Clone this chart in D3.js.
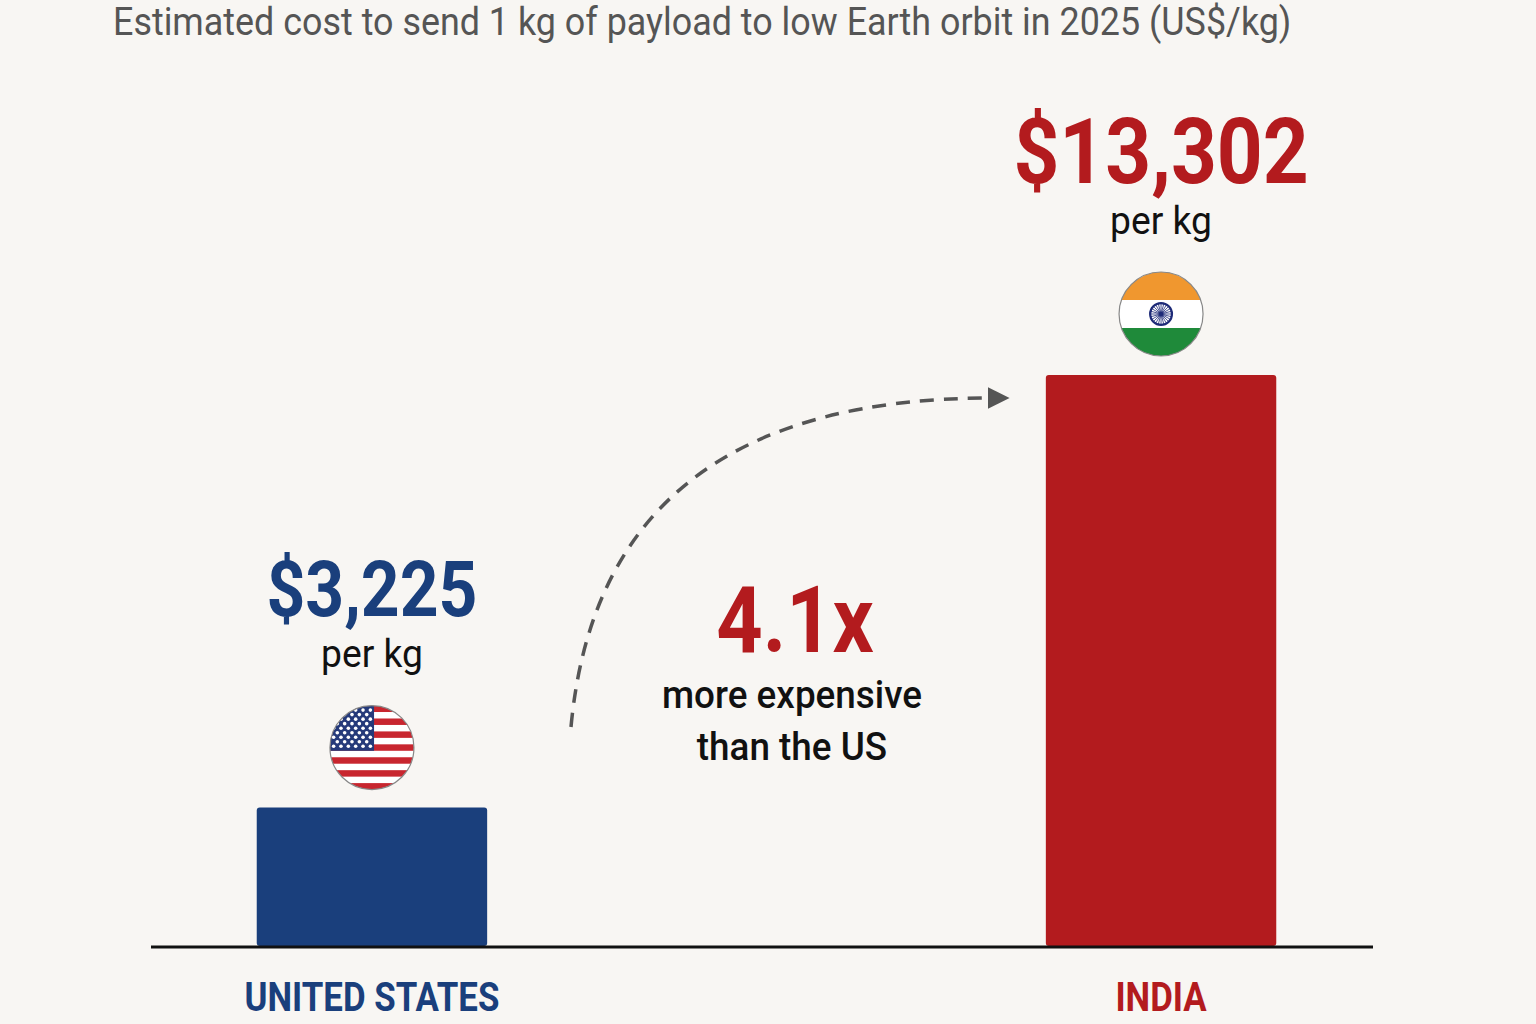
<!DOCTYPE html>
<html>
<head>
<meta charset="utf-8">
<script src="https://cdn.jsdelivr.net/npm/d3@7"></script>
<style>
  body { margin: 0; background: #f8f6f3; }
  svg { display: block; }
</style>
</head>
<body>
<div id="viz"></div>
<script>
// data
var countries = ["UNITED STATES", "INDIA"];
var costs = [3225, 13302];
var costLabels = ["$3,225", "$13,302"];
var colors = ["#1a3f7c", "#b31b1e"];
var flags = ["us", "in"];
var ratioLabel = "4.1x";

var W = 1536, H = 1024;
var svg = d3.select("#viz").append("svg")
  .attr("width", W).attr("height", H)
  .style("font-family", "Roboto, 'Noto Sans', sans-serif");

svg.append("rect").attr("width", W).attr("height", H).attr("fill", "#f8f6f3");

var x = d3.scaleBand().domain(countries).range([151, 1382]).paddingInner(0.708).paddingOuter(0.134);
var y = d3.scaleLinear().domain([0, d3.max(costs)]).range([946, 375]);

// text with horizontal squeeze
function label(cx, by, txt, size, weight, fill, sx, anchor) {
  return svg.append("text")
    .attr("transform", "translate(" + cx + "," + by + ") scale(" + sx + ",1)")
    .attr("text-anchor", anchor || "middle")
    .attr("font-size", size)
    .attr("font-weight", weight)
    .attr("fill", fill)
    .text(txt);
}

label(113, 35, "Estimated cost to send 1 kg of payload to low Earth orbit in 2025 (US$/kg)", 39, 400, "#555", 0.92, "start");

// bars
svg.selectAll("rect.bar").data(countries).enter().append("rect")
  .attr("class", "bar")
  .attr("x", function(d) { return x(d); })
  .attr("width", x.bandwidth())
  .attr("y", function(d, i) { return y(costs[i]); })
  .attr("height", function(d, i) { return y(0) - y(costs[i]); })
  .attr("rx", 3)
  .attr("fill", function(d, i) { return colors[i]; });

// baseline
svg.append("line")
  .attr("x1", 151).attr("x2", 1373)
  .attr("y1", y(0) + 1).attr("y2", y(0) + 1)
  .attr("stroke", "#111").attr("stroke-width", 3);

// flags
var defs = svg.append("defs");
function usFlag(cx, cy, r) {
  var id = "clip-us";
  defs.append("clipPath").attr("id", id).append("circle").attr("cx", cx).attr("cy", cy).attr("r", r);
  var g = svg.append("g").attr("clip-path", "url(#" + id + ")");
  var sh = 2 * r / 13;
  d3.range(13).forEach(function(k) {
    g.append("rect").attr("x", cx - r).attr("y", cy - r + k * sh)
      .attr("width", 2 * r).attr("height", sh + 0.5)
      .attr("fill", k % 2 == 0 ? "#c8262f" : "#fff");
  });
  var cw = r * 1.05, ch = sh * 7;
  g.append("rect").attr("x", cx - r).attr("y", cy - r).attr("width", cw).attr("height", ch).attr("fill", "#253a7a");
  for (var row = 0; row < 9; row++) {
    var n = row % 2 == 0 ? 6 : 5;
    for (var c = 0; c < n; c++) {
      var sx = cx - r + cw / 12 * (row % 2 == 0 ? 2 * c + 1 : 2 * c + 2);
      var sy = cy - r + ch / 10 * (row + 1);
      g.append("circle").attr("cx", sx).attr("cy", sy).attr("r", 1.8).attr("fill", "#fff");
    }
  }
  svg.append("circle").attr("cx", cx).attr("cy", cy).attr("r", r)
    .attr("fill", "none").attr("stroke", "#888").attr("stroke-width", 1.2);
}
function inFlag(cx, cy, r) {
  var id = "clip-in";
  defs.append("clipPath").attr("id", id).append("circle").attr("cx", cx).attr("cy", cy).attr("r", r);
  var g = svg.append("g").attr("clip-path", "url(#" + id + ")");
  var bands = ["#f0972f", "#ffffff", "#1f8a3a"];
  bands.forEach(function(col, k) {
    g.append("rect").attr("x", cx - r).attr("y", cy - r + k * 2 * r / 3)
      .attr("width", 2 * r).attr("height", 2 * r / 3 + 0.5).attr("fill", col);
  });
  var cr = r * 0.26;
  g.append("circle").attr("cx", cx).attr("cy", cy).attr("r", cr)
    .attr("fill", "none").attr("stroke", "#1e2b78").attr("stroke-width", 2.2);
  d3.range(24).forEach(function(k) {
    var a = k * Math.PI / 12;
    g.append("line").attr("x1", cx).attr("y1", cy)
      .attr("x2", cx + Math.cos(a) * cr).attr("y2", cy + Math.sin(a) * cr)
      .attr("stroke", "#1e2b78").attr("stroke-width", 0.8);
  });
  g.append("circle").attr("cx", cx).attr("cy", cy).attr("r", 2.2).attr("fill", "#1e2b78");
  svg.append("circle").attr("cx", cx).attr("cy", cy).attr("r", r)
    .attr("fill", "none").attr("stroke", "#888").attr("stroke-width", 1.2);
}

countries.forEach(function(d, i) {
  var cx = x(d) + x.bandwidth() / 2;
  var top = y(costs[i]);
  var big = i == 0 ? 77 : 91;
  label(cx, top - 192, costLabels[i], big, 700, colors[i], 0.88);
  label(cx, top - 141, "per kg", 38, 400, "#111", 0.98);
  if (flags[i] == "us") usFlag(cx, top - 60, 42); else inFlag(cx, top - 61, 42);
  label(cx, 1011, d, 41, 700, colors[i], 0.85);
});

// ratio annotation
label(795, 652, ratioLabel, 92, 700, "#b31b1e", 0.88);
label(792, 708, "more expensive", 38, 500, "#111", 0.97);
label(792, 760, "than the US", 38, 500, "#111", 0.97);

// dashed arrow
defs.append("marker").attr("id", "arrow")
  .attr("viewBox", "0 0 10 10").attr("refX", 2).attr("refY", 5)
  .attr("markerWidth", 22).attr("markerHeight", 22).attr("orient", "auto")
  .attr("markerUnits", "userSpaceOnUse")
  .append("path").attr("d", "M0,0 L10,5 L0,10 z").attr("fill", "#555");

var p = d3.path();
p.moveTo(571, 727);
p.bezierCurveTo(592, 500, 740, 398, 992, 398);
svg.append("path").attr("d", p.toString())
  .attr("fill", "none").attr("stroke", "#555").attr("stroke-width", 3.5)
  .attr("stroke-dasharray", "14,10")
  .attr("marker-end", "url(#arrow)");
</script>
</body>
</html>
